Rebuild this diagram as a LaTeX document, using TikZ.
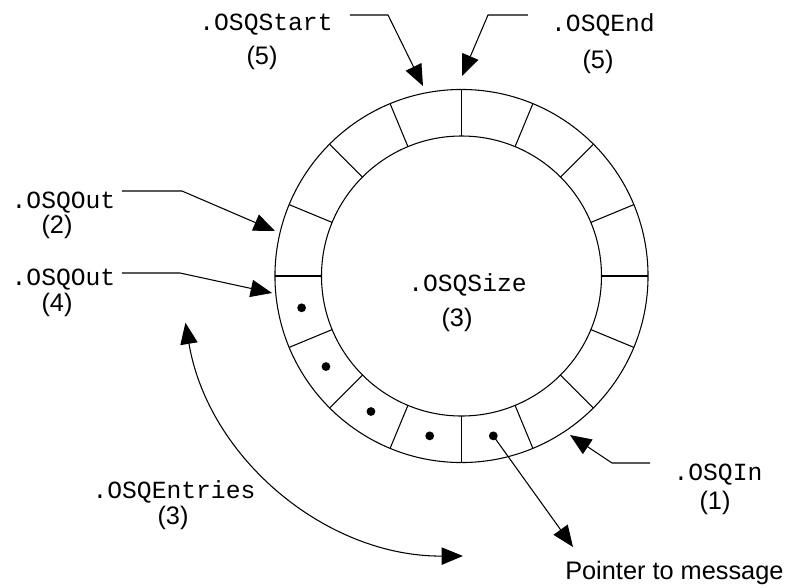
\documentclass[tikz,border=0pt]{standalone}
\usepackage{fontspec}
\setmainfont{Liberation Sans}
\setmonofont{Liberation Mono}
\usetikzlibrary{arrows.meta}

\begin{document}
\begin{tikzpicture}[
        x=0.75pt, y=0.75pt,
        % campi della struttura OS_Q in Courier, numeri in Arial
        field/.style={font=\ttfamily\fontsize{18.5}{20}\selectfont, inner sep=0pt},
        num/.style={font=\fontsize{19}{20}\selectfont, inner sep=0pt},
        ring/.style={line width=0.8pt},
        tip/.tip={Triangle[length=16pt,width=13pt]},
        arrow/.style={-tip, line width=0.8pt},
        dot/.style={fill=black}
    ]
    \useasboundingbox (-461.5,-311) rectangle (331.5,276);

    % --- ring buffer (16 entries) ---
    \coordinate (c) at (0,0);
    \draw[ring] (c) circle[radius=139.9pt];
    \draw[ring] (c) circle[radius=105pt];
    \foreach \a in {0,22.5,...,337.5}
        \draw[ring] (\a:140) -- (\a:186.5);

    % entries in use
    \foreach \a [count=\i] in {191.25,213.75,...,281.25}
        \coordinate (d\i) at (\a:163);
    \foreach \i in {1,...,5}
        \fill[dot] (d\i) circle[radius=3.3pt];

    % --- labels ---
    \node[field] (start) at (-195.5,251) {.OSQStart};
    \node[num] (startn) at (-199.5,218) {(5)};
    \node[field] (end) at (141.5,251) {.OSQEnd};
    \node[num] (endn) at (136.5,214) {(5)};
    \node[field] (outa) at (-398,73) {.OSQOut};
    \node[num] (outan) at (-404.5,49) {(2)};
    \node[field] (outb) at (-398,-4) {.OSQOut};
    \node[num] (outbn) at (-404.5,-29) {(4)};
    \node[field] (size) at (6,-9) {.OSQSize};
    \node[num] (sizen) at (-4.5,-44) {(3)};
    \node[field] (entries) at (-287.5,-216) {.OSQEntries};
    \node[num] (entriesn) at (-288.5,-242) {(3)};
    \node[field] (in) at (256.5,-199) {.OSQIn};
    \node[num] (inn) at (253.5,-227) {(1)};
    \node[num, anchor=west] (msg) at (103.5,-297) {Pointer to message};

    % --- pointers ---
    \coordinate (start1) at (-111.5,261);
    \coordinate (start2) at (-73.5,261);
    \coordinate (starttip) at (-38.5,190);
    \draw[arrow] (start1) -- (start2) -- (starttip);

    \coordinate (end1) at (66.5,261);
    \coordinate (end2) at (26.5,261);
    \coordinate (endtip) at (0.5,200);
    \draw[arrow] (end1) -- (end2) -- (endtip);

    \coordinate (outa1) at (-339.5,85);
    \coordinate (outa2) at (-279.5,85);
    \coordinate (outatip) at (-186.5,45);
    \draw[arrow] (outa1) -- (outa2) -- (outatip);

    \coordinate (outb1) at (-339.5,3);
    \coordinate (outb2) at (-281.5,3);
    \coordinate (outbtip) at (-189.5,-17);
    \draw[arrow] (outb1) -- (outb2) -- (outbtip);

    \coordinate (in1) at (188.5,-187);
    \coordinate (in2) at (150.5,-187);
    \coordinate (intip) at (108.5,-159);
    \draw[arrow] (in1) -- (in2) -- (intip);

    \coordinate (msgtip) at (111.5,-271);
    \draw[arrow] (d5) -- (msgtip);

    % number of entries
    \coordinate (entriesa) at (189.6:280);
    \draw[arrow, tip-tip] (entriesa) arc[start angle=189.6, end angle=270.3, radius=210pt];

\end{tikzpicture}
\end{document}
